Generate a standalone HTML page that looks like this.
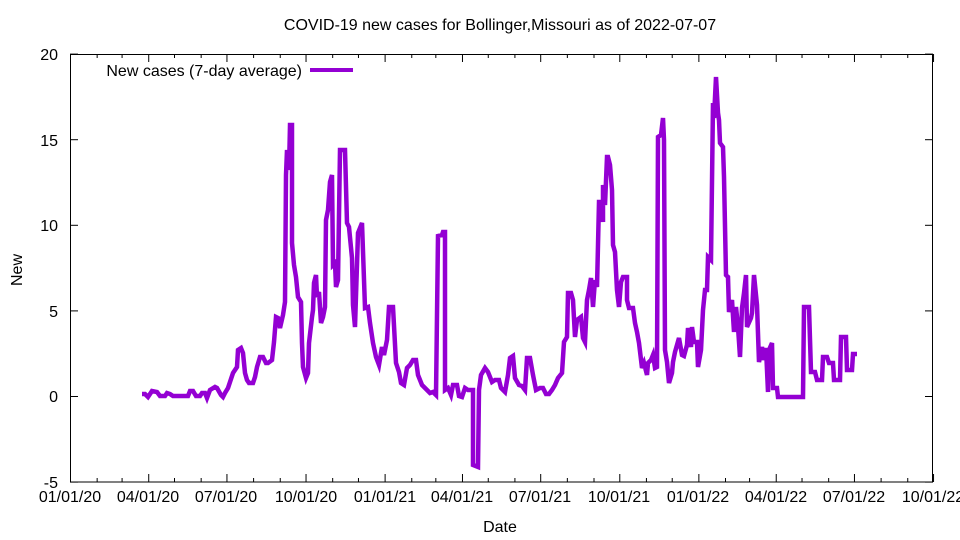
<!DOCTYPE html>
<html><head><meta charset="utf-8"><style>
html,body{margin:0;padding:0;background:#fff;}
svg{display:block;font-family:"Liberation Sans",sans-serif;}
</style></head><body>
<svg id="s" width="960" height="540" viewBox="0 0 960 540" xmlns="http://www.w3.org/2000/svg">
<rect x="0" y="0" width="960" height="540" fill="#fff"/>
<g id="ticks" stroke="#000" stroke-width="1"></g>
<rect x="70.5" y="54.5" width="862" height="427.5" fill="none" stroke="#000" stroke-width="1"/>
<g font-size="16" fill="#000" text-anchor="end">
<text x="58" y="60">20</text>
<text x="58" y="146">15</text>
<text x="58" y="231">10</text>
<text x="58" y="317">5</text>
<text x="58" y="402">0</text>
<text x="58" y="488">-5</text>
</g>
<g font-size="16" fill="#000" text-anchor="middle">
<text x="70" y="502">01/01/20</text>
<text x="148" y="502">04/01/20</text>
<text x="226" y="502">07/01/20</text>
<text x="306" y="502">10/01/20</text>
<text x="385" y="502">01/01/21</text>
<text x="462" y="502">04/01/21</text>
<text x="540" y="502">07/01/21</text>
<text x="619" y="502">10/01/21</text>
<text x="698" y="502">01/01/22</text>
<text x="776" y="502">04/01/22</text>
<text x="854" y="502">07/01/22</text>
<text x="933" y="502">10/01/22</text>
<text x="500" y="532">Date</text>
<text x="500" y="30">COVID-19 new cases for Bollinger,Missouri as of 2022-07-07</text>
<text transform="translate(22,270) rotate(-90)">New</text>
</g>
<text x="302" y="76" font-size="16" text-anchor="end">New cases (7-day average)</text>
<line x1="310" y1="70" x2="353" y2="70" stroke="#9400d3" stroke-width="4"/>
<polyline fill="none" stroke="#9400d3" stroke-width="4.5" stroke-linejoin="miter" points="
142,394 145,394 148,397 152,391 157,392 160,396 165,396 167,393 170,394 173,396 188,396 190,391 193,391 196,396 200,396 202,393 205,393 207,398 210,390 215,387 217,388 221,395 223,397 225,393 228,388 231,379 233,373 237,367 238,350 241,348 243,353 245,373 247,380 249,383 253,383 255,377 257,367 260,357 263,357 266,363 268,363 272,360 274,342 276,317 278,318 280,328 283,315 285,302 286,175 287,150 289,170 290,125 292,125 292,243 294,265 296,277 298,297 301,302 302,343 303,367 306,378 308,373 309,343 312,317 313,310 314,283 316,275 317,297 319,292 321,323 323,317 325,307 326,220 328,210 330,182 332,175 333,265 335,263 336,287 338,280 340,150 345,150 347,223 349,227 352,258 353,305 355,327 358,233 362,223 365,308 368,307 370,323 373,343 376,357 379,365 382,347 384,355 387,340 389,307 393,307 396,363 399,372 401,383 404,385 407,368 410,365 413,360 416,360 418,375 422,385 427,390 430,393 433,392 436,395 438,236 442,235 443,232 445,232 445,390 448,388 451,395 453,385 457,385 459,396 462,397 465,388 468,390 473,390 473,465 478,467 479,390 481,375 485,368 488,372 492,382 495,380 499,380 501,388 505,392 508,375 510,358 513,356 515,378 519,385 522,386 525,390 527,358 530,358 533,375 536,390 540,388 543,388 546,394 549,394 552,390 555,385 558,378 562,373 564,342 567,337 568,293 571,293 573,300 575,337 577,320 581,317 583,338 585,342 587,300 589,290 591,278 593,307 595,280 597,287 598,245 599,202 602,202 603,222 603,185 605,205 607,157 608,157 610,165 612,190 613,245 615,252 617,290 619,307 621,282 623,277 627,277 627,300 629,308 633,308 635,323 637,332 639,343 642,368 644,363 647,375 648,363 651,360 653,355 655,368 657,367 658,137 661,135 663,118 664,140 665,350 667,362 669,383 672,373 673,362 675,352 677,345 679,338 682,355 684,356 687,345 688,328 691,347 692,327 694,342 697,342 698,367 701,350 703,310 705,290 707,290 708,257 711,260 713,103 714,118 716,77 718,113 719,120 720,143 723,147 724,177 726,275 728,277 729,312 732,300 734,332 736,307 738,327 740,357 742,308 744,293 746,275 747,327 751,318 752,313 754,275 757,305 759,362 762,347 764,360 766,348 768,392 769,350 772,343 773,388 777,388 778,397 803,397 804,307 809,307 811,372 815,372 817,380 822,380 823,357 827,357 829,363 833,363 834,380 840,380 841,337 846,337 847,370 852,370 853,354 857,354"/>
</svg>
<script>
(function(){
var g=document.getElementById('ticks'),ns='http://www.w3.org/2000/svg';
function L(x1,y1,x2,y2){var l=document.createElementNS(ns,'line');l.setAttribute('x1',x1);l.setAttribute('y1',y1);l.setAttribute('x2',x2);l.setAttribute('y2',y2);g.appendChild(l);}
var md=[31,29,31,30,31,30,31,31,30,31,30,31,31,28,31,30,31,30,31,31,30,31,30,31,31,28,31,30,31,30,31,31,30];
var d=0;
for(var m=0;m<=33;m++){
 var x=70.5+d*0.8596;var major=(m%3==0);var len=major?8:4;
 L(x,482,x,482-len);L(x,54,x,54+len);
 d+=md[m]||0;
}
for(var v=-5;v<=20;v+=5){var y=396-v*17.12+0.5;L(70,y,78,y);L(933,y,925,y);}
})();
</script>
</body></html>
